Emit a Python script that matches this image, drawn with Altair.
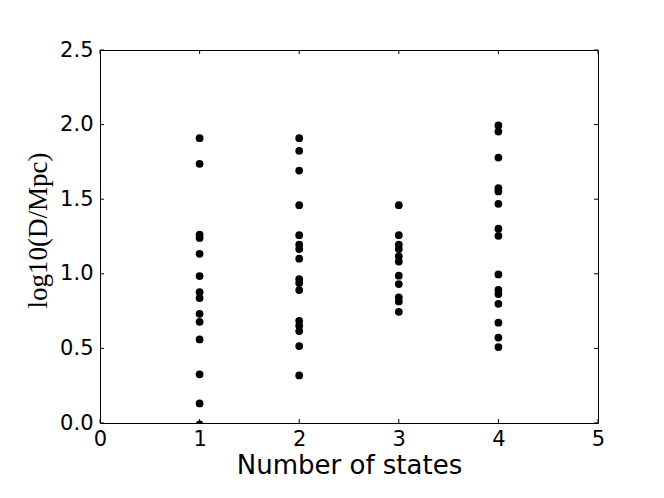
import altair as alt
import pandas as pd

# number of states for each column of points
states = [1, 2, 3, 4]
# log10(D/Mpc) values
vals_1 = [1.909, 1.737, 1.262, 1.240, 1.134, 0.985, 0.877, 0.837, 0.732, 0.678, 0.560, 0.326, 0.131, -0.01]
vals_2 = [1.909, 1.824, 1.692, 1.460, 1.259, 1.195, 1.166, 1.101, 0.964, 0.938, 0.891, 0.685, 0.652, 0.616, 0.516, 0.319]
vals_3 = [1.460, 1.259, 1.195, 1.166, 1.116, 1.082, 0.987, 0.931, 0.842, 0.815, 0.745]
vals_4 = [1.994, 1.953, 1.779, 1.574, 1.552, 1.469, 1.302, 1.255, 0.996, 0.893, 0.864, 0.799, 0.672, 0.573, 0.509]

x_ticks = [0, 1, 2, 3, 4, 5]
y_ticks = [0.0, 0.5, 1.0, 1.5, 2.0, 2.5]

rows = []
for s, vs in zip(states, [vals_1, vals_2, vals_3, vals_4]):
    for v in vs:
        rows.append({"n": s, "d": v})
df = pd.DataFrame(rows)
xt = pd.DataFrame({"v": x_ticks})
yt = pd.DataFrame({"v": y_ticks})

W, H = 498, 373
TL = 4

xs = alt.Scale(domain=[0, 5], nice=False, zero=False)
ys = alt.Scale(domain=[0, 2.5], nice=False, zero=False)

xaxis = alt.Axis(values=x_ticks, format="d", ticks=False, domain=False, grid=False,
                 labelFont="DejaVu Sans", labelFontSize=21, labelColor="black",
                 labelPadding=5, title="Number of states", titleFont="DejaVu Sans",
                 titleFontSize=26, titleFontWeight="normal", titleColor="black",
                 titlePadding=3, labelFlush=False)
yaxis = alt.Axis(values=y_ticks, format=".1f", ticks=False, domain=False, grid=False,
                 labelFont="DejaVu Sans", labelFontSize=21, labelColor="black",
                 labelPadding=7, title="log10(D/Mpc)", titleFont="Liberation Serif",
                 titleFontSize=27, titleFontWeight="normal", titleColor="black",
                 titlePadding=7, titleY=180, labelFlush=False)

points = alt.Chart(df).mark_circle(size=60, color="black", opacity=1, clip=True).encode(
    x=alt.X("n:Q", scale=xs, axis=xaxis),
    y=alt.Y("d:Q", scale=ys, axis=yaxis),
)

yl = alt.Chart(yt).mark_rule(color="black", strokeWidth=1).encode(
    y=alt.Y("v:Q", scale=ys), x=alt.value(0), x2=alt.value(TL))
yr = alt.Chart(yt).mark_rule(color="black", strokeWidth=1).encode(
    y=alt.Y("v:Q", scale=ys), x=alt.value(W - TL), x2=alt.value(W))
xb = alt.Chart(xt).mark_rule(color="black", strokeWidth=1).encode(
    x=alt.X("v:Q", scale=xs), y=alt.value(H), y2=alt.value(H - TL))
xtp = alt.Chart(xt).mark_rule(color="black", strokeWidth=1).encode(
    x=alt.X("v:Q", scale=xs), y=alt.value(0), y2=alt.value(TL))

chart = alt.layer(points, yl, yr, xb, xtp).properties(
    width=W, height=H,
    background="white",
    autosize=alt.AutoSizeParams(type="none"),
    padding={"left": 92, "top": 42, "right": 56, "bottom": 64},
).configure_view(stroke="black", strokeWidth=1)

chart.save("out.html", embed_options={"renderer": "svg", "actions": False})
